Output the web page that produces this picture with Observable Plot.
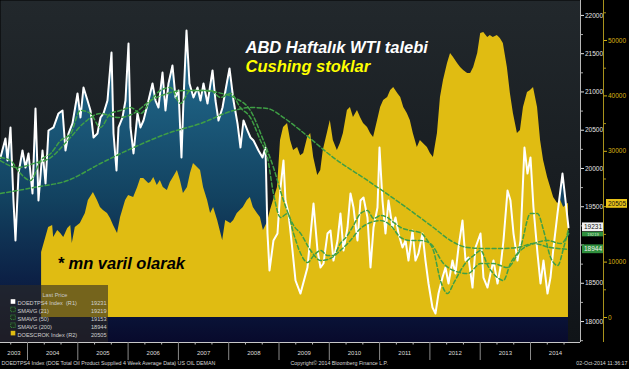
<!DOCTYPE html>
<html><head><meta charset="utf-8">
<script src="https://cdn.jsdelivr.net/npm/d3@7"></script>
<script src="https://cdn.jsdelivr.net/npm/@observablehq/plot@0.6"></script>
<style>html,body{margin:0;padding:0;background:#000;overflow:hidden}#chart{width:629px;height:369px}</style>
</head><body><div id="chart"></div>
<script>
// US weekly product supplied, 4-week avg (R1), [decimal year, thousand b/d]
const demand = [[2003.463,20143],[2003.562,20392],[2003.602,20104],[2003.662,20536],[2003.721,19581],[2003.761,19059],[2003.821,19934],[2003.900,20235],[2003.960,20013],[2004.020,20196],[2004.099,19673],[2004.159,20784],[2004.218,19581],[2004.298,20235],[2004.358,19804],[2004.417,20496],[2004.517,20536],[2004.616,20719],[2004.696,20758],[2004.755,20235],[2004.815,20457],[2004.894,20588],[2004.994,20980],[2005.053,20666],[2005.113,21058],[2005.193,20888],[2005.252,20758],[2005.312,20405],[2005.391,20457],[2005.451,20666],[2005.511,20719],[2005.590,20888],[2005.670,21516],[2005.710,20457],[2005.769,19974],[2005.809,20536],[2005.888,20666],[2005.948,20888],[2006.008,21633],[2006.047,20536],[2006.107,20196],[2006.187,20719],[2006.246,20536],[2006.306,20627],[2006.405,20888],[2006.485,21111],[2006.545,20888],[2006.604,20797],[2006.684,21254],[2006.743,20758],[2006.803,21111],[2006.882,21346],[2006.942,20928],[2007.002,21019],[2007.061,20143],[2007.101,20888],[2007.161,21803],[2007.220,21111],[2007.300,20928],[2007.380,21058],[2007.439,20888],[2007.499,21111],[2007.578,20849],[2007.678,21281],[2007.737,20888],[2007.797,20627],[2007.877,20797],[2007.936,21019],[2008.016,21307],[2008.095,20888],[2008.175,20588],[2008.234,20274],[2008.294,20627],[2008.374,20496],[2008.433,20405],[2008.493,20366],[2008.592,20235],[2008.672,20143],[2008.731,20274],[2008.771,19150],[2008.811,18667],[2008.890,19059],[2008.970,19150],[2009.030,19751],[2009.089,20104],[2009.129,19581],[2009.189,19412],[2009.268,18928],[2009.328,18536],[2009.427,18366],[2009.566,18706],[2009.686,19542],[2009.765,18928],[2009.825,18706],[2009.884,18758],[2009.964,19150],[2010.024,19189],[2010.083,18797],[2010.163,19059],[2010.222,19412],[2010.282,18928],[2010.362,19229],[2010.421,19673],[2010.481,19490],[2010.560,19059],[2010.620,19581],[2010.680,19621],[2010.759,19359],[2010.819,18706],[2010.879,19229],[2010.958,19490],[2010.998,20274],[2011.057,19581],[2011.117,19150],[2011.177,19581],[2011.256,19229],[2011.316,19359],[2011.376,19150],[2011.455,18967],[2011.515,19059],[2011.574,18797],[2011.654,19189],[2011.713,18797],[2011.773,18889],[2011.853,19150],[2011.912,18797],[2011.972,18497],[2012.051,18183],[2012.111,18105],[2012.171,18366],[2012.250,18575],[2012.310,18706],[2012.370,18497],[2012.449,18797],[2012.509,18627],[2012.568,18967],[2012.648,19320],[2012.708,18797],[2012.767,18836],[2012.847,18444],[2012.906,18967],[2013.006,19150],[2013.065,18575],[2013.145,18444],[2013.205,18627],[2013.264,18797],[2013.344,18497],[2013.403,18706],[2013.463,19059],[2013.543,19712],[2013.602,19581],[2013.662,19150],[2013.741,18797],[2013.801,19059],[2013.880,20274],[2013.940,19934],[2014.000,20143],[2014.059,19490],[2014.139,18889],[2014.199,18497],[2014.258,18797],[2014.338,18366],[2014.397,18575],[2014.457,18967],[2014.537,19412],[2014.636,19934],[2014.696,19581],[2014.755,19231]];
const sma21 = [[2003.46,20143],[2003.66,20104],[2003.86,19934],[2004.06,19843],[2004.26,20104],[2004.46,20196],[2004.66,20366],[2004.86,20457],[2005.05,20758],[2005.25,20719],[2005.45,20536],[2005.65,20719],[2005.85,20758],[2006.05,20797],[2006.25,20719],[2006.45,20888],[2006.64,21019],[2006.84,21058],[2007.04,20849],[2007.24,21019],[2007.44,21019],[2007.64,21019],[2007.84,20928],[2008.04,20980],[2008.23,20797],[2008.43,20666],[2008.63,20366],[2008.77,20143],[2008.89,19673],[2009.03,19359],[2009.17,19412],[2009.29,19150],[2009.43,18889],[2009.57,18771],[2009.69,18863],[2009.83,18928],[2009.96,18863],[2010.08,18863],[2010.22,19019],[2010.36,19124],[2010.48,19255],[2010.62,19412],[2010.76,19451],[2010.88,19346],[2011.02,19385],[2011.16,19359],[2011.28,19294],[2011.42,19229],[2011.61,19189],[2011.81,19163],[2011.95,19059],[2012.07,18928],[2012.21,18536],[2012.35,18366],[2012.47,18497],[2012.61,18667],[2012.75,18797],[2012.87,18863],[2013.01,18928],[2013.15,18732],[2013.34,18575],[2013.46,18536],[2013.60,18758],[2013.80,18967],[2014.00,19412],[2014.14,19412],[2014.26,19189],[2014.40,18836],[2014.54,18732],[2014.66,18967],[2014.76,19219]];
const sma50 = [[2003.46,20104],[2003.80,20013],[2004.12,20065],[2004.46,20143],[2004.80,20366],[2005.11,20588],[2005.45,20719],[2005.79,20666],[2006.11,20719],[2006.45,20888],[2006.78,20980],[2007.10,21019],[2007.44,21019],[2007.78,20993],[2008.10,20928],[2008.43,20758],[2008.69,20366],[2008.89,20013],[2009.09,19581],[2009.29,19255],[2009.43,19150],[2009.63,18928],[2009.83,18797],[2010.02,18823],[2010.22,18928],[2010.42,19059],[2010.62,19216],[2010.82,19294],[2011.02,19320],[2011.22,19255],[2011.42,19098],[2011.61,19059],[2011.81,19059],[2012.01,19019],[2012.27,18758],[2012.47,18667],[2012.75,18627],[2013.01,18758],[2013.26,18758],[2013.54,18706],[2013.80,18928],[2014.06,19019],[2014.34,19059],[2014.60,19019],[2014.76,19153]];
const sma200 = [[2003.46,19673],[2004.12,19751],[2004.80,19843],[2005.45,20065],[2006.11,20274],[2006.78,20457],[2007.44,20588],[2008.10,20758],[2008.43,20797],[2008.77,20784],[2009.09,20666],[2009.43,20496],[2010.08,20143],[2010.76,19843],[2011.42,19542],[2012.07,19229],[2012.41,19059],[2012.75,18967],[2013.07,18954],[2013.40,18954],[2013.74,18967],[2014.06,19019],[2014.40,18967],[2014.76,18944]];
// Cushing crude stocks (R2), [decimal year, thousand barrels]
const cushing = [[2004.28,11733],[2004.42,16245],[2004.50,16606],[2004.52,14440],[2004.60,15704],[2004.66,15162],[2004.72,14440],[2004.80,16065],[2004.86,16606],[2004.89,13357],[2004.95,16245],[2005.05,16967],[2005.15,18772],[2005.21,21119],[2005.31,22563],[2005.39,21119],[2005.45,19855],[2005.51,19314],[2005.59,18772],[2005.65,17870],[2005.71,16606],[2005.79,15162],[2005.85,18050],[2005.95,21119],[2006.01,22021],[2006.11,21660],[2006.19,23465],[2006.25,25090],[2006.31,25090],[2006.41,24187],[2006.45,24368],[2006.51,25270],[2006.58,23826],[2006.64,24729],[2006.70,23465],[2006.78,22924],[2006.84,24368],[2006.90,25270],[2006.98,26534],[2007.04,24729],[2007.10,22382],[2007.18,23465],[2007.24,25992],[2007.30,27797],[2007.38,27075],[2007.44,26534],[2007.50,23465],[2007.58,21119],[2007.64,18772],[2007.70,19855],[2007.78,17509],[2007.88,13899],[2007.94,17509],[2008.04,16967],[2008.10,17509],[2008.17,18772],[2008.23,19314],[2008.29,19855],[2008.37,21119],[2008.43,21660],[2008.49,19855],[2008.57,18772],[2008.63,18050],[2008.69,15704],[2008.77,17148],[2008.83,19314],[2008.89,21119],[2008.97,23465],[2009.03,31949],[2009.09,34295],[2009.17,35017],[2009.23,31949],[2009.29,30144],[2009.37,30685],[2009.43,29200],[2009.49,29602],[2009.57,32490],[2009.63,33212],[2009.69,28880],[2009.77,25631],[2009.83,26534],[2009.88,30144],[2009.96,33212],[2010.02,35559],[2010.08,31949],[2010.16,30144],[2010.22,31407],[2010.28,33212],[2010.36,37364],[2010.42,37905],[2010.48,36100],[2010.56,37364],[2010.62,36100],[2010.68,35017],[2010.76,34295],[2010.82,33212],[2010.88,32490],[2010.96,35559],[2011.02,37905],[2011.08,39169],[2011.16,39710],[2011.22,40974],[2011.28,41515],[2011.36,40432],[2011.42,39710],[2011.48,37905],[2011.55,36822],[2011.61,35559],[2011.67,33212],[2011.75,30685],[2011.81,31949],[2011.87,31407],[2011.95,30685],[2012.01,29602],[2012.07,28880],[2012.15,33212],[2012.21,39710],[2012.27,42779],[2012.35,45847],[2012.41,47652],[2012.47,46930],[2012.55,45847],[2012.61,45125],[2012.67,44584],[2012.75,44042],[2012.81,44042],[2012.87,45125],[2012.95,47652],[2013.01,51262],[2013.07,51443],[2013.15,50540],[2013.20,50901],[2013.26,50540],[2013.34,50901],[2013.40,50360],[2013.46,49457],[2013.54,45125],[2013.60,40432],[2013.66,36822],[2013.74,33212],[2013.80,33754],[2013.86,37905],[2013.94,40613],[2014.00,40974],[2014.06,41515],[2014.14,37905],[2014.20,31949],[2014.26,28339],[2014.34,25270],[2014.40,23465],[2014.46,21660],[2014.54,20577],[2014.60,21119],[2014.66,19855],[2014.74,20577],[2014.755,20505]];

const r1Ticks = [18000,18500,19000,19500,20000,20500,21000,21500,22000];
const r1Hidden = [19000];           // label covered by the last-value tags
const r1Minor = [17750,18250,18750,19250,19750,20250,20750,21250,21750];
const r2Ticks = [0,10000,20000,30000,40000,50000];
const r2Hidden = [20000];           // label covered by the last-value tag
const r2Minor = [5000,15000,25000,35000,45000,55000];
const yearTicks = [2004,2005,2006,2007,2008,2009,2010,2011,2012,2013,2014];
const yearLabels = ["2003","2004","2005","2006","2007","2008","2009","2010","2011","2012","2013","2014"];
const legendNames = ["DOEDTPS4 Index  (R1)","SMAVG (21)","SMAVG (50)","SMAVG (200)","DOESCROK Index (R2)"];
const legendValues = [19231,19219,19153,18944,20505];
const titleLines = ["ABD Haftalık WTI talebi","Cushing stoklar"];
const note = "* mn varil olarak";
const footer = ["DOEDTPS4 Index (DOE Total Oil Product Supplied 4 Week Average Data) US OIL DEMAN","Copyright\u00a9 2014 Bloomberg Finance L.P.","02-Oct-2014 11:36:17"];

const X0 = 2003.463, X1 = 2014.994;
const R1 = [17726, 22195];
const R2 = [-4512, 57219];
const r2toR1 = d3.scaleLinear().domain(R2).range(R1);
const minorX = yearTicks.flatMap(y => [y - 2/3, y - 1/3]).concat([2014 + 1/3, 2014 + 2/3]).filter(v => v > X0);

const YEL = "#e0bc12", GRN = "#3f9f45";
const F = "Liberation Sans, Arial, sans-serif";
const ns = "http://www.w3.org/2000/svg";

function defs() {
  const d = document.createElementNS(ns, "defs");
  d.innerHTML = `<linearGradient id="bgG" x1="0" y1="0" x2="0" y2="1"><stop offset="0" stop-color="#22282c"/><stop offset="1" stop-color="#101418"/></linearGradient>
  <linearGradient id="tealG" gradientUnits="userSpaceOnUse" x1="0" y1="85" x2="0" y2="342"><stop offset="0" stop-color="#1e6284"/><stop offset="0.45" stop-color="#12415f"/><stop offset="0.8" stop-color="#0b1c42"/><stop offset="1" stop-color="#080a2c"/></linearGradient>`;
  return d;
}
function legendBox() {
  const r = document.createElementNS(ns, "rect");
  r.setAttribute("x", 0); r.setAttribute("y", 285); r.setAttribute("width", 108); r.setAttribute("height", 57);
  r.setAttribute("fill", "rgba(45,42,35,0.6)");
  return r;
}

// last-value tag: box + label at value position v (in R1 units), label text given separately
const tag = (v, label, {dx, w, fill, color, fs = 6.5, dy = 0, h = 4.4}) => [
  Plot.rect([v], {x1: X1, x2: X1, y1: d => d, y2: d => d, dx, dy, insetRight: -w, insetTop: -h, insetBottom: -h, fill}),
  Plot.text([v], {x: X1, y: d => d, dx: dx + w / 2, dy, text: () => String(label), fill: color, fontSize: fs, fontFamily: F})
];

const legendMarks = [];
legendMarks.push(Plot.text(["Last Price"], {frameAnchor: "top-left", dx: 42, dy: 293, textAnchor: "start", fill: "#c8c8c8", fontSize: 5.6, fontFamily: F}));
legendNames.forEach((n, i) => {
  const dy = 301 + i * 7.9;
  legendMarks.push(Plot.text([n], {frameAnchor: "top-left", dx: 17, dy, textAnchor: "start", fill: "#d0d0d0", fontSize: 5.6, fontFamily: F}));
  legendMarks.push(Plot.text([legendValues[i]], {frameAnchor: "top-left", dx: 106, dy, textAnchor: "end", text: d => String(d), fill: "#d0d0d0", fontSize: 5.6, fontFamily: F}));
  const isSeries = i === 0 || i === 4;
  legendMarks.push(Plot.dot([0], {frameAnchor: "top-left", dx: 12.5, dy, symbol: "square", r: 2.6,
    fill: i === 0 ? "#fff" : i === 4 ? YEL : "#1b2a20", stroke: isSeries ? "none" : GRN, strokeWidth: 0.8, strokeDasharray: isSeries ? null : "1,0.8"}));
});

const plot = Plot.plot({
  width: 629, height: 369,
  marginLeft: 0, marginRight: 49, marginTop: 0, marginBottom: 27,
  x: {type: "linear", domain: [X0, X1], axis: null},
  y: {domain: R1, axis: null},
  style: {background: "#000", color: "#ddd", fontFamily: F, overflow: "visible"},
  marks: [
    defs,
    Plot.frame({fill: "url(#bgG)", stroke: "none"}),
    Plot.areaY(demand, {x: d => d[0], y1: R1[0], y2: d => d[1], fill: "url(#tealG)", clip: true}),
    Plot.areaY(cushing, {x: d => d[0], y1: r2toR1(0), y2: d => r2toR1(d[1]), fill: YEL, clip: true}),
    Plot.line(demand, {x: d => d[0], y: d => d[1], stroke: "#ffffff", strokeWidth: 2, clip: true}),
    Plot.line(sma200, {x: d => d[0], y: d => d[1], stroke: GRN, strokeWidth: 1.5, strokeDasharray: "4,2.5", curve: "monotone-x", clip: true}),
    Plot.line(sma50, {x: d => d[0], y: d => d[1], stroke: GRN, strokeWidth: 1.5, strokeDasharray: "4,2.5", curve: "monotone-x", clip: true}),
    Plot.line(sma21, {x: d => d[0], y: d => d[1], stroke: GRN, strokeWidth: 1.5, strokeDasharray: "4,2.5", curve: "monotone-x", clip: true}),
    // axes
    Plot.ruleY([R1[0]], {stroke: "#c8c8c8", strokeWidth: 1}),
    Plot.ruleX([X1], {stroke: "#b8b8b8", strokeWidth: 1}),
    Plot.axisY({anchor: "right", ticks: r1Ticks, tickSize: 3, tickPadding: 1.5, tickFormat: d => r1Hidden.includes(d) ? "" : String(d), fontSize: 6.5, color: "#e4e4e4", fontFamily: F}),
    Plot.axisY({anchor: "right", ticks: r1Minor, tickSize: 2, tickFormat: () => "", color: "#aaaaaa"}),
    Plot.ruleX([X1], {dx: 23, stroke: "#a8921c", strokeWidth: 1}),
    Plot.axisY({anchor: "right", ticks: r2Ticks.map(r2toR1), tickSize: 3, tickPadding: 1.5, dx: 23,
      tickFormat: d => { const v = Math.round(r2toR1.invert(d) / 1000) * 1000; return r2Hidden.includes(v) ? "" : String(v); },
      fontSize: 6.5, color: "#d9b414", fontFamily: F}),
    Plot.axisY({anchor: "right", ticks: r2Minor.map(r2toR1), tickSize: 2, dx: 23, tickFormat: () => "", color: "#a8921c"}),
    Plot.axisX({anchor: "bottom", ticks: yearTicks, tickSize: 18, tickFormat: () => "", color: "#8a8a8a"}),
    Plot.axisX({anchor: "bottom", ticks: minorX, tickSize: 2.5, tickFormat: () => "", color: "#bbbbbb"}),
    Plot.text(yearLabels, {x: d => (Math.max(+d, X0) + Math.min(+d + 1, X1)) / 2, text: d => d, frameAnchor: "bottom", dy: 12, fontSize: 6, fill: "#dcdcdc", fontFamily: F}),
    // last value tags
    ...tag(r2toR1(legendValues[4]), legendValues[4], {dx: 26, w: 21, fill: "#e8c218", color: "#111"}),
    ...tag(legendValues[0], legendValues[0], {dx: 2, w: 21, fill: "#f2f2f2", color: "#111"}),
    Plot.rect([legendValues[1]], {x1: X1, x2: X1, y1: d => d, y2: d => d, dx: 2, dy: 6.3, insetRight: -21, insetTop: -2.3, insetBottom: -2.3, fill: "#2f8f3d"}),
    Plot.text([legendValues[1]], {x: X1, y: d => d, dx: 12.5, dy: 6.3, text: d => String(d), fill: "#cfe8cf", fontSize: 4.2, fontFamily: F}),
    ...tag(legendValues[3], legendValues[3], {dx: 2, w: 21, fill: "#2f8f3d", color: "#f0f0f0"}),
    // titles
    Plot.text([titleLines[0]], {frameAnchor: "top-left", dx: 245, dy: 52, lineAnchor: "bottom", textAnchor: "start", fill: "#ffffff", fontSize: 16.5, fontWeight: "bold", fontStyle: "italic", fontFamily: F}),
    Plot.text([titleLines[1]], {frameAnchor: "top-left", dx: 245, dy: 71, lineAnchor: "bottom", textAnchor: "start", fill: "#ffff00", fontSize: 16.5, fontWeight: "bold", fontStyle: "italic", fontFamily: F}),
    Plot.text([note], {frameAnchor: "top-left", dx: 57, dy: 268, lineAnchor: "bottom", textAnchor: "start", fill: "#000000", fontSize: 16.5, fontWeight: "bold", fontStyle: "italic", fontFamily: F}),
    // legend
    legendBox,
    ...legendMarks,
    // footer
    Plot.text([footer[0]], {frameAnchor: "bottom-left", dx: 1, dy: 22, textAnchor: "start", fill: "#d8d8d8", fontSize: 5.3, fontFamily: F}),
    Plot.text([footer[1]], {frameAnchor: "bottom-left", dx: 290, dy: 22, textAnchor: "start", fill: "#d8d8d8", fontSize: 5.3, fontFamily: F}),
    Plot.text([footer[2]], {frameAnchor: "bottom-right", dx: 47, dy: 22, textAnchor: "end", fill: "#d8d8d8", fontSize: 5.3, fontFamily: F})
  ]
});
document.getElementById("chart").append(plot);
</script></body></html>
